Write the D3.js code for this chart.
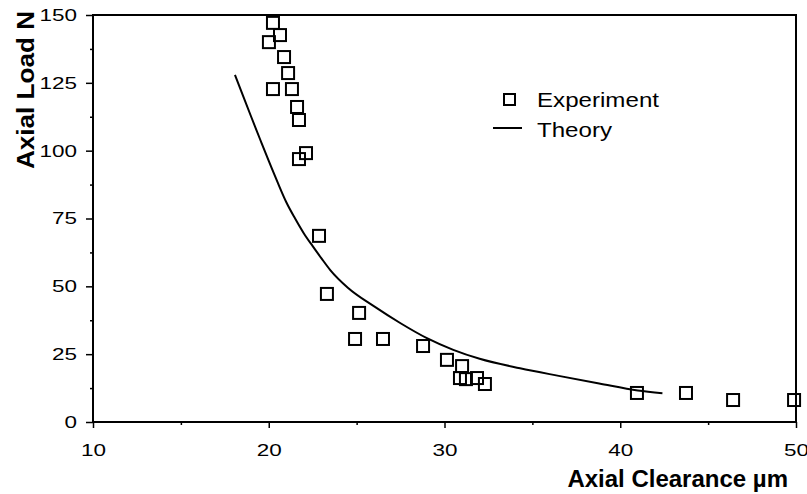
<!DOCTYPE html>
<html>
<head>
<meta charset="utf-8">
<script src="https://cdn.jsdelivr.net/npm/d3@7"></script>
<style>
  body { margin: 0; background: #fff; }
  text { font-family: "Liberation Sans", Arial, sans-serif; fill: #000; }
</style>
</head>
<body>
<div id="chart"></div>
<script>
// experiment: axial clearance (um) vs axial load (N)
const expClearance = [20.24, 20.64, 20.01, 20.87, 21.10, 20.24, 21.32, 21.61, 21.72, 22.12, 21.72,
  22.86, 23.31, 25.14, 24.91, 26.50, 28.78, 30.14, 31.00, 30.88, 31.22, 31.85, 32.30,
  40.95, 43.74, 46.42, 49.89];
const expLoad = [147.1, 142.6, 140.0, 134.5, 128.6, 122.7, 122.7, 116.1, 111.3, 99.1, 96.9,
  68.6, 47.2, 40.2, 30.6, 30.6, 28.0, 22.9, 20.6, 16.2, 15.8, 16.2, 14.0,
  10.7, 10.7, 8.1, 8.1];

// theory curve
const theoryClearance = [18.08, 18.5, 19.0, 19.5, 20.0, 20.5, 21.0, 21.5, 22.0, 22.5, 23.0, 23.5,
  24.5, 26.0, 27.5, 29.0, 30.5, 32.0, 34.3, 36.5, 38.8, 41.0, 42.4];
const theoryLoad = [127.9, 120.8, 112.5, 104.3, 96.2, 88.4, 81.0, 75.0, 69.5, 64.8, 60.3, 56.0,
  49.5, 42.6, 36.4, 30.9, 26.6, 23.3, 19.8, 17.0, 14.2, 11.6, 10.6];

const xTicks = [10, 20, 30, 40, 50];
const yTicks = [0, 25, 50, 75, 100, 125, 150];

const width = 807;
const height = 494;
const margin = { top: 15, right: 11, bottom: 72, left: 93 };

const svg = d3.select('#chart')
  .append('svg')
  .attr('width', width)
  .attr('height', height);

const x = d3.scaleLinear().domain([10, 50]).range([margin.left, width - margin.right]);
const y = d3.scaleLinear().domain([0, 150]).range([height - margin.bottom, margin.top]);

// frame
svg.append('rect')
  .attr('x', x(10))
  .attr('y', y(150))
  .attr('width', x(50) - x(10))
  .attr('height', y(0) - y(150))
  .attr('fill', 'none')
  .attr('stroke', '#000')
  .attr('stroke-width', 2);

// axes
const xAxis = svg.append('g')
  .attr('transform', `translate(0,${y(0)})`)
  .call(d3.axisBottom(x).tickValues(xTicks).tickSize(6).tickPadding(16).tickFormat(d3.format('d')));
const xMinor = svg.append('g')
  .attr('transform', `translate(0,${y(0)})`)
  .call(d3.axisBottom(x).tickValues([15, 25, 35, 45]).tickSize(3).tickFormat(''));

const yAxis = svg.append('g')
  .attr('transform', `translate(${x(10)},0)`)
  .call(d3.axisLeft(y).tickValues(yTicks).tickSize(7).tickPadding(9).tickFormat(d3.format('d')));
const yMinor = svg.append('g')
  .attr('transform', `translate(${x(10)},0)`)
  .call(d3.axisLeft(y).tickValues([12.5, 37.5, 62.5, 87.5, 112.5, 137.5]).tickSize(3).tickFormat(''));

// tick labels in the original are wide, stretch them a bit
[xAxis, xMinor, yAxis, yMinor].forEach((g) => {
  g.select('.domain').remove();
  g.selectAll('line').attr('stroke', '#000').attr('stroke-width', 1.5);
  g.selectAll('text')
    .style('font-size', '17px')
    .attr('textLength', function () { return this.textContent.length * 12.5; })
    .attr('lengthAdjust', 'spacingAndGlyphs');
});

// axis titles
svg.append('text')
  .attr('x', 788)
  .attr('y', 487)
  .attr('text-anchor', 'end')
  .style('font-size', '24px')
  .style('font-weight', 'bold')
  .text('Axial Clearance µm');

svg.append('text')
  .attr('transform', 'translate(34,90) rotate(-90)')
  .attr('text-anchor', 'middle')
  .attr('textLength', 158)
  .attr('lengthAdjust', 'spacingAndGlyphs')
  .style('font-size', '24px')
  .style('font-weight', 'bold')
  .text('Axial Load N');

// theory line
const line = d3.line()
  .x((d) => x(d[0]))
  .y((d) => y(d[1]))
  .curve(d3.curveMonotoneX);

svg.append('path')
  .datum(d3.zip(theoryClearance, theoryLoad))
  .attr('d', line)
  .attr('fill', 'none')
  .attr('stroke', '#000')
  .attr('stroke-width', 2);

// experiment squares
const sq = 12;
svg.selectAll('.exp')
  .data(d3.zip(expClearance, expLoad))
  .enter()
  .append('rect')
  .attr('class', 'exp')
  .attr('x', (d) => x(d[0]) - sq / 2)
  .attr('y', (d) => y(d[1]) - sq / 2)
  .attr('width', sq)
  .attr('height', sq)
  .attr('fill', 'none')
  .attr('stroke', '#000')
  .attr('stroke-width', 2);

// legend
const legend = svg.append('g').attr('transform', 'translate(493,100)');
legend.append('rect')
  .attr('x', 11)
  .attr('y', -6)
  .attr('width', 11)
  .attr('height', 11)
  .attr('fill', 'none')
  .attr('stroke', '#000')
  .attr('stroke-width', 2);
legend.append('text')
  .attr('x', 44)
  .attr('y', 7)
  .attr('textLength', 122)
  .attr('lengthAdjust', 'spacingAndGlyphs')
  .style('font-size', '20px')
  .text('Experiment');
legend.append('line')
  .attr('x1', 0)
  .attr('x2', 29)
  .attr('y1', 28)
  .attr('y2', 28)
  .attr('stroke', '#000')
  .attr('stroke-width', 2);
legend.append('text')
  .attr('x', 44)
  .attr('y', 37)
  .attr('textLength', 75)
  .attr('lengthAdjust', 'spacingAndGlyphs')
  .style('font-size', '20px')
  .text('Theory');
</script>
</body>
</html>
